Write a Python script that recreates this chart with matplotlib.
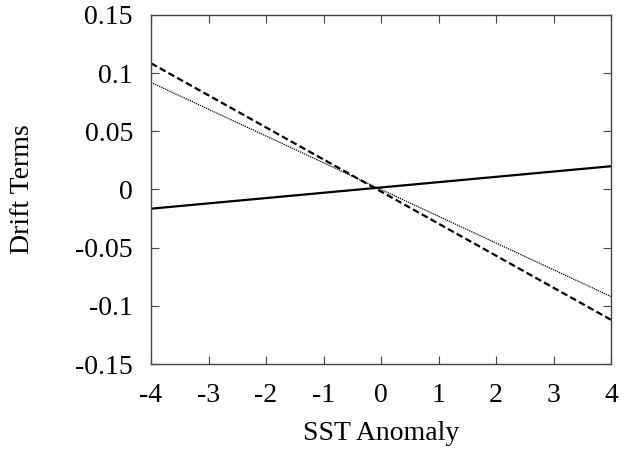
import numpy as np
import matplotlib.pyplot as plt

# Linear drift terms, evaluated at the ends of the SST anomaly range
sst = [-4, 4]
drift_solid = [-0.0165, 0.0200]
drift_dashed = [0.1085, -0.1120]
drift_dotted = [0.0920, -0.0920]

plt.rcParams['font.family'] = ['Liberation Serif', 'DejaVu Serif']

fig = plt.figure(figsize=(6.25, 4.5), dpi=100)
ax = fig.add_axes([0.2416, 0.1911, 0.736, 0.7756])

ax.plot(sst, drift_solid, color='black', lw=1.6, ls='-')
ax.plot(sst, drift_dashed, color='black', lw=1.6, ls=(0, (3, 1.5)))
ax.plot(sst, drift_dotted, color='black', lw=0.9, ls=(0, (1, 0.8)))

ax.set_xlim(-4, 4)
ax.set_ylim(-0.15, 0.15)
ax.set_xticks(np.arange(-4, 5, 1))
ax.set_xticklabels([str(v) for v in range(-4, 5)])
ax.set_yticks([-0.15, -0.1, -0.05, 0, 0.05, 0.1, 0.15])
ax.set_yticklabels(['-0.15', '-0.1', '-0.05', '0', '0.05', '0.1', '0.15'])

ax.tick_params(direction='in', top=True, right=True, length=6, width=0.8,
               labelsize=20, color='#444444')
ax.tick_params(axis='y', pad=13)
ax.tick_params(axis='x', pad=14)
for s in ax.spines.values():
    s.set_linewidth(1.0)
    s.set_color('#444444')

ax.set_xlabel('SST Anomaly', fontsize=20, labelpad=9)
ax.set_ylabel('Drift Terms', fontsize=20, labelpad=29)

fig.savefig('out.png', dpi=100)
